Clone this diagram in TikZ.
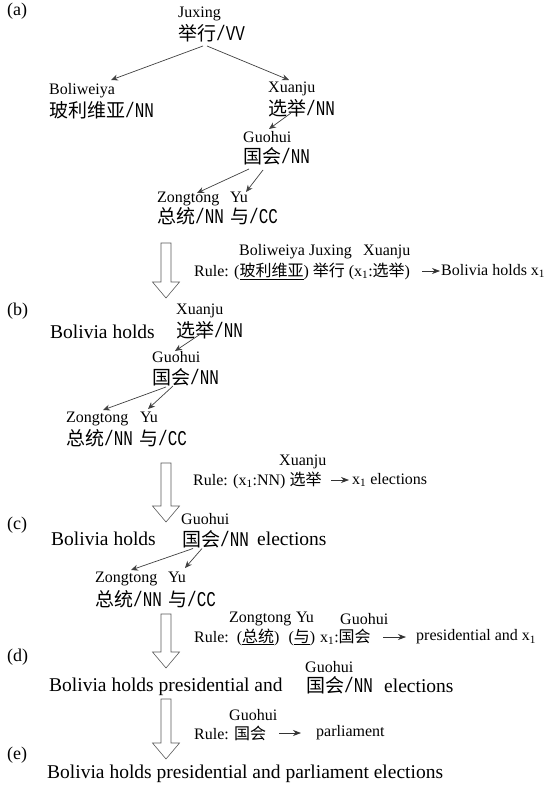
\documentclass[tikz,border=0pt]{standalone}
\usepackage{fontspec}
\setmainfont{Liberation Serif}
\newfontfamily\cjk{Noto Sans CJK SC}
\newfontfamily\hwfont[FakeStretch=0.76]{Liberation Mono}
\usetikzlibrary{arrows.meta,calc}
\newcommand\postag[1]{{\hwfont\fontsize{21}{21}\selectfont/#1}}
\newcommand\xone{x\textsubscript{1}}
\newcommand\bigarrow[2]{\draw[bigarr] (161,#1) -- (161,{#2-16}) -- (152.5,{#2-16}) -- (166,#2) -- (179.5,{#2-16}) -- (171,{#2-16}) -- (171,#1) -- cycle;}
\tikzset{
  py/.style={anchor=west, inner sep=0pt, font=\fontsize{16}{16}\selectfont},
  cj/.style={anchor=west, inner sep=0pt, font=\fontsize{19}{19}\selectfont\cjk},
  mainline/.style={anchor=west, inner sep=0pt, font=\fontsize{19.5}{20}\selectfont},
  stage/.style={anchor=west, inner sep=0pt, font=\fontsize{18}{18}\selectfont},
  ruletxt/.style={anchor=west, inner sep=0pt, font=\fontsize{16}{16}\selectfont},
  rulelbl/.style={anchor=west, inner sep=0pt, font=\fontsize{16}{16}\selectfont},
  dep/.style={draw=black!75, line width=0.7pt, -{Stealth[length=7pt,width=6pt]}},
  rarr/.style={draw=black!80, line width=0.7pt, -{Stealth[length=8pt,width=6pt]}},
  bigarr/.style={draw=black!65, line width=0.6pt},
}
\begin{document}
\begin{tikzpicture}[x=1pt,y=-1pt]
\useasboundingbox (0,0) rectangle (546,787);
% ---------- (a)
\node[stage] (la) at (7,11.5) {(a)};
\node[py] (jxp) at (178,13.5) {Juxing};
\node[cj] (jxc) at (178,33.5) {举行\postag{VV}};
\node[py] (blp) at (49,90.5) {Boliweiya};
\node[cj] (blc) at (49,110) {玻利维亚\postag{NN}};
\node[py] (xjp) at (268,89) {Xuanju};
\node[cj] (xjc) at (268,108.5) {选举\postag{NN}};
\node[py] (ghp) at (243,137) {Guohui};
\node[cj] (ghc) at (243,156.5) {国会\postag{NN}};
\node[py] (ztp) at (157,199) {Zongtong};
\node[py] (yup) at (230,197.3) {Yu};
\node[cj] (ztc) at (157,216.5) {总统\postag{NN}};
\node[cj] (yuc) at (230,216.5) {与\postag{CC}};
\draw[dep] ($(jxc.west)+(25,12.5)$) -- ($(blp.west)+(62,-10.5)$);
\draw[dep] ($(jxc.west)+(29,12.5)$) -- ($(xjp.west)+(21,-9)$);
\draw[dep] ($(xjc.west)+(23,4.5)$) -- ($(ghp.west)+(26,-8)$);
\draw[dep] ($(ghc.west)+(6,12.5)$) -- ($(ztp.west)+(40,-6)$);
\draw[dep] ($(ghc.west)+(20,13.5)$) -- ($(yup.west)+(16,-5.3)$);
\bigarrow{243}{298}
\node[rulelbl] (ra1) at (239,252) {Boliweiya};
\node[rulelbl] (ra2) at (309,252) {Juxing};
\node[rulelbl] (ra3) at (363,252) {Xuanju};
\node[ruletxt] (ral) at (194,271) {Rule: (\underline{{\cjk 玻利维亚}}) {\cjk 举行} (\xone:{\cjk 选举})};
\node[ruletxt] (rar) at (441,271) {Bolivia holds \xone};
\draw[rarr] ([xshift=-19pt]rar.west) -- ([xshift=-1pt]rar.west);
% ---------- (b)
\node[stage] (lb) at (7,311) {(b)};
\node[mainline] (bh1) at (50,331.5) {Bolivia holds};
\node[py] (xjp2) at (176,311) {Xuanju};
\node[cj] (xjc2) at (176,330.5) {选举\postag{NN}};
\node[py] (ghp2) at (152,357) {Guohui};
\node[cj] (ghc2) at (152,377.5) {国会\postag{NN}};
\node[py] (ztp2) at (66,419) {Zongtong};
\node[py] (yup2) at (140,417.3) {Yu};
\node[cj] (ztc2) at (66,438.5) {总统\postag{NN}};
\node[cj] (yuc2) at (139,438.5) {与\postag{CC}};
\draw[dep] ($(xjc2.west)+(26,2.5)$) -- ($(ghp2.west)+(23,-6)$);
\draw[dep] ($(ghc2.west)+(14,9.5)$) -- ($(ztp2.west)+(37,-9)$);
\draw[dep] ($(ghc2.west)+(21,8.5)$) -- ($(yup2.west)+(8,-8.3)$);
\bigarrow{463}{522}
\node[rulelbl] (rb1) at (279,462) {Xuanju};
\node[ruletxt] (rbl) at (193,480) {Rule: (\xone:NN) {\cjk 选举}};
\node[ruletxt] (rbr) at (352,480) {\xone\ elections};
\draw[rarr] ([xshift=-21pt]rbr.west) -- ([xshift=-3pt]rbr.west);
% ---------- (c)
\node[stage] (lc) at (7,525) {(c)};
\node[mainline] (bh2) at (51,539) {Bolivia holds};
\node[py] (ghp3) at (181,519) {Guohui};
\node[cj] (ghc3) at (182,539) {国会\postag{NN}};
\node[mainline] (el3) at (257,539) {elections};
\node[py] (ztp3) at (95,579) {Zongtong};
\node[py] (yup3) at (168,577.3) {Yu};
\node[cj] (ztc3) at (95,599) {总统\postag{NN}};
\node[cj] (yuc3) at (168,599) {与\postag{CC}};
\draw[dep] ($(ghc3.west)+(11,9.5)$) -- ($(ztp3.west)+(36,-9)$);
\draw[dep] ($(ghc3.west)+(20,9.5)$) -- ($(yup3.west)+(17,-9.3)$);
\bigarrow{614}{668}
\node[rulelbl] (rc1) at (229,619) {Zongtong};
\node[rulelbl] (rc2) at (296,617.3) {Yu};
\node[rulelbl] (rc3) at (340,619) {Guohui};
\node[ruletxt] (rcl) at (194,637) {Rule:\hspace{8pt}(\underline{{\cjk 总统}})\hspace{9pt}(\underline{{\cjk 与}})\hspace{5pt}\xone:{\cjk 国会}};
\node[ruletxt] (rcr) at (416,637) {presidential and \xone};
\draw[rarr] ([xshift=-33pt]rcr.west) -- ([xshift=-10pt]rcr.west);
% ---------- (d)
\node[stage] (ld) at (7,657) {(d)};
\node[py] (ghp4) at (305,667) {Guohui};
\node[mainline] (bh3) at (49,687) {Bolivia holds presidential and};
\node[cj] (ghc4) at (306,685) {国会\postag{NN}};
\node[mainline] (el4) at (384,686) {elections};
\bigarrow{699}{759}
\node[rulelbl] (rd1) at (229,715) {Guohui};
\node[ruletxt] (rdl) at (194,733) {Rule: {\cjk 国会}};
\node[ruletxt] (rdr) at (316,733) {parliament};
\draw[rarr] ([xshift=-37pt]rdr.west) -- ([xshift=-15pt]rdr.west);
% ---------- (e)
\node[stage] (le) at (7,755) {(e)};
\node[mainline] (fin) at (47,774) {Bolivia holds presidential and parliament elections};
\end{tikzpicture}
\end{document}
